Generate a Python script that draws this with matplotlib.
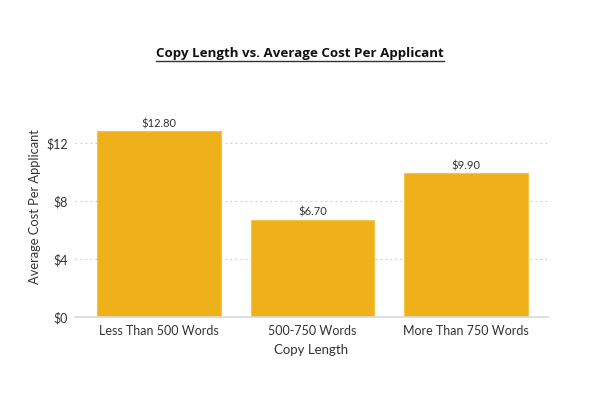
import matplotlib
matplotlib.use("Agg")
import matplotlib.pyplot as plt

categories = ["Less Than 500 Words", "500-750 Words", "More Than 750 Words"]
values = [12.80, 6.70, 9.90]
value_labels = ["$12.80", "$6.70", "$9.90"]
yticks = [0, 4, 8, 12]
ytick_labels = ["$0", "$4", "$8", "$12"]

fig = plt.figure(figsize=(6, 4), dpi=100)
ax = fig.add_axes([0.125, 0.2075, 0.788, 0.551])

x = list(range(len(categories)))
ax.bar(x, values, width=0.805, color="#EFB11A", edgecolor="#F5C54A", linewidth=0.8, zorder=3)
for xi, v, lab in zip(x, values, value_labels):
    ax.text(xi, v + 0.15, lab, ha="center", va="bottom", fontsize=8,
            family="Lato", color="#333333", zorder=4)

ax.set_xlim(-0.545, 2.53)
ax.set_ylim(0, 15.2)
ax.set_xticks(x)
ax.set_xticklabels(categories, family="Lato", fontsize=9, color="#333333")
ax.set_yticks(yticks)
ax.set_yticklabels(ytick_labels, family="Lato", fontsize=9, color="#333333")
ax.tick_params(axis="both", length=0, pad=5)
ax.tick_params(axis="x", pad=6)

ax.yaxis.grid(True, linestyle=(0, (1.5, 3)), color="#cccccc", linewidth=0.8, zorder=0)
ax.set_axisbelow(True)
for s in ["top", "right", "left"]:
    ax.spines[s].set_visible(False)
ax.spines["bottom"].set_color("#d9d9d9")
ax.spines["bottom"].set_linewidth(1.2)
ax.spines["bottom"].set_zorder(5)

ax.set_xlabel("Copy Length", family="Lato", fontsize=9.5, color="#333333", labelpad=5)
ax.set_ylabel("Average Cost Per Applicant", family="Lato", fontsize=9.3, color="#333333", labelpad=4)

t = fig.text(0.5, 0.866, "Copy Length vs. Average Cost Per Applicant", ha="center", va="center",
             family="Open Sans", fontweight="bold", fontsize=9.6, color="#111111")
# underline
fig.canvas.draw()
bb = t.get_window_extent()
w, h = fig.canvas.get_width_height()
x0, x1 = bb.x0 / w, bb.x1 / w
yl = (bb.y0 - 1.0) / h
fig.add_artist(plt.Line2D([x0, x1], [yl, yl], color="#333333", linewidth=1.0, transform=fig.transFigure))

fig.savefig("out.png", dpi=100)
